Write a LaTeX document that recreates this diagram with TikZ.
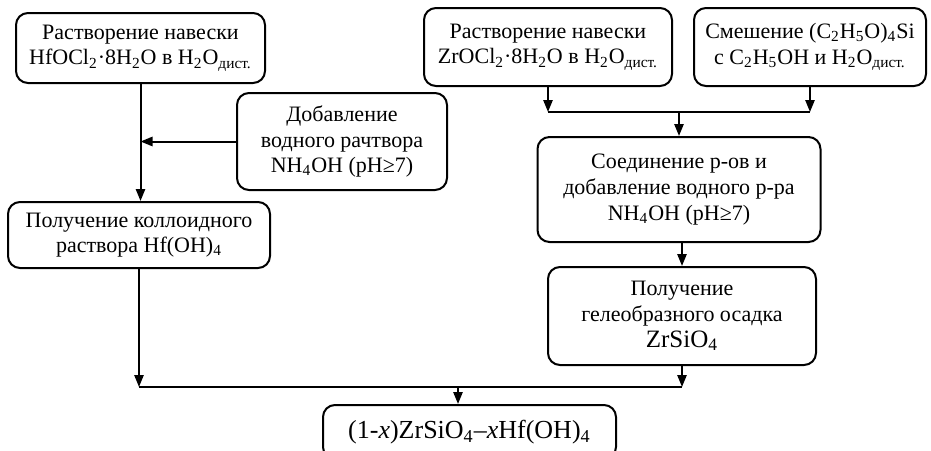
\documentclass[tikz,border=0pt]{standalone}
\usepackage{fontspec}
\setmainfont{Liberation Serif}
\usetikzlibrary{arrows.meta,positioning}

\begin{document}
\begin{tikzpicture}[
x=0.5pt, y=-0.5pt,
box/.style={draw, rounded corners=6pt, align=center, line width=1pt, inner sep=2pt, font=\fontsize{11}{12.8}\selectfont},
arr/.style={-{Triangle[length=6pt,width=4.6pt]}, line width=1pt},
ln/.style={line width=1pt}
]
\useasboundingbox (0,0) rectangle (931,450);
% left branch
\node[box, minimum width=124.5pt, minimum height=35pt] (hfsol) at (140.5,48) {Растворение навески\\ HfOCl\textsubscript{2}·8H\textsubscript{2}O в H\textsubscript{2}O\textsubscript{дист.}};
\node[box, minimum width=105pt, minimum height=48.5pt] (nhadd) at (342,141.5) {Добавление\\ водного рачтвора\\ NH\textsubscript{4}OH (pH≥7)};
\node[box, minimum width=131pt, minimum height=33pt] (hfcol) at (139,235) {Получение коллоидного\\ раствора Hf(OH)\textsubscript{4}};
% right branch
\node[box, minimum width=124pt, minimum height=39pt] (zrsol) at (548,47) {Растворение навески\\ ZrOCl\textsubscript{2}·8H\textsubscript{2}O в H\textsubscript{2}O\textsubscript{дист.}};
\node[box, minimum width=116pt, minimum height=39pt] (teos) at (810,47) {Смешение (C\textsubscript{2}H\textsubscript{5}O)\textsubscript{4}Si\\ с C\textsubscript{2}H\textsubscript{5}OH и H\textsubscript{2}O\textsubscript{дист.}};
\node[box, minimum width=141.5pt, minimum height=52.5pt] (mixing) at (679,189.5) {Соединение р-ов и\\ добавление водного р-ра\\ NH\textsubscript{4}OH (pH≥7)};
\node[box, minimum width=134pt, minimum height=49pt] (zrsi) at (682,316) {Получение\\ гелеобразного осадка\\ {\fontsize{12.5}{12.5}\selectfont ZrSiO\textsubscript{4}}};
% result
\node[box, minimum width=146.5pt, minimum height=27pt, font=\fontsize{13}{14}\selectfont] (final) at (469.5,432) {(1-\textit{x})ZrSiO\textsubscript{4}–\textit{x}Hf(OH)\textsubscript{4}};

\coordinate (topjoin) at (679,112);
\coordinate (botjoin) at (458,387);

\draw[arr] (hfsol.south) -- (hfsol.south |- hfcol.north);
\draw[arr] (nhadd.west) -- (hfsol.south |- nhadd.west);
\draw[arr] (zrsol.south) -- (zrsol.south |- topjoin);
\draw[arr] (teos.south) -- (teos.south |- topjoin);
\draw[ln] (zrsol.south |- topjoin) -- (teos.south |- topjoin);
\draw[arr] (topjoin) -- (topjoin |- mixing.north);
\draw[arr] (zrsi.north |- mixing.south) -- (zrsi.north);
\draw[arr] (hfcol.south) -- (hfcol.south |- botjoin);
\draw[arr] (zrsi.south) -- (zrsi.south |- botjoin);
\draw[ln] (hfcol.south |- botjoin) -- (zrsi.south |- botjoin);
\draw[arr] (botjoin) -- (botjoin |- final.north);
\end{tikzpicture}
\end{document}
